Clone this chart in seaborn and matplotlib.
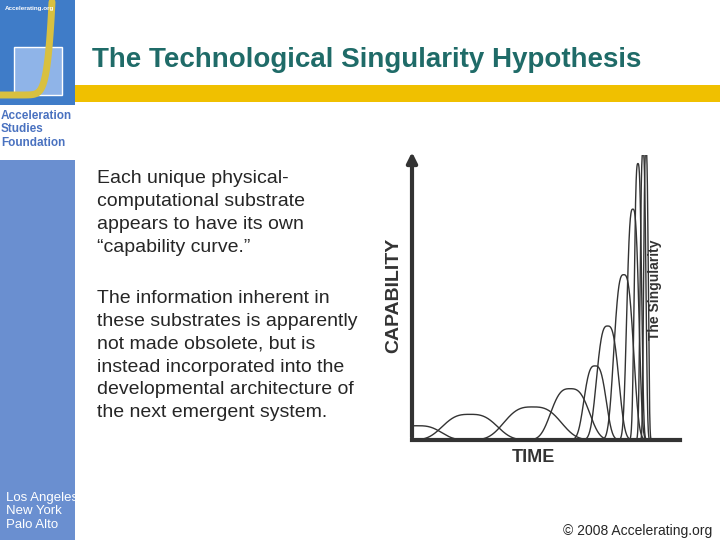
import numpy as np
import pandas as pd
import matplotlib
matplotlib.use("Agg")
import matplotlib.pyplot as plt
import seaborn as sns
from matplotlib.patches import Rectangle, FancyArrowPatch
from matplotlib.lines import Line2D

centers = [2, 21.6, 45, 59, 68.3, 73, 79, 82.4, 84.3, 86.2, 87.3]
half_widths = [12, 13.7, 14.3, 9.7, 5.6, 5.6, 5.0, 3.1, 1.9, 1.5, 1.2]
heights = [5, 9, 11.6, 18, 26, 40, 58, 81, 97, 101, 102]

sns.set_theme(style="white")
plt.rcParams['font.family'] = ['Liberation Sans', 'DejaVu Sans']

rows = []
for i, (c, w, h) in enumerate(zip(centers, half_widths, heights)):
    s = w / 1.15
    t = np.linspace(max(c - 2.2 * w, 0), min(c + 2.2 * w, 100), 300)
    y = h * np.exp(-np.abs((t - c) / s) ** 3)
    for a, b in zip(t, y):
        rows.append({"curve": i, "time": a, "cap": b})
df = pd.DataFrame(rows)

fig = plt.figure(figsize=(7.2, 5.4), dpi=100)
W, H = 720, 540
def R(x, y, w, h, col, z=1, ec="none", lw=0):
    fig.patches.append(Rectangle((x/W, 1-(y+h)/H), w/W, h/H, transform=fig.transFigure,
                                 facecolor=col, edgecolor=ec, lw=lw, zorder=z))
R(0, 0, 75, 540, "#6a8fd0", 0)
R(0, 105, 75, 55, "white")
R(0, 0, 75, 105, "#3f7cc8")
R(14, 47, 48, 48, "#8fb4e8", 2, ec="white", lw=1)
R(75, 85, 645, 17, "#f0c000")
tt = np.linspace(0, 1, 50)
fig.lines.append(Line2D((0 + 52*tt**0.35)/W, 1-(95 - 93*tt**4)/H, transform=fig.transFigure,
                        color="#d8c040", lw=5, zorder=3))
fig.text(5/W, 1-6/H, "Accelerating.org", color="white", fontsize=4.5, fontweight="bold", va="top", zorder=4)
fig.text(1/W, 1-110/H, "Acceleration\nStudies\nFoundation", color="#4a72c0", fontsize=8.5,
         fontweight="bold", va="top", linespacing=1.15)
fig.text(92/W, 1-60/H, "The Technological Singularity Hypothesis", color="#1f6b68",
         fontsize=20, fontweight="bold", va="center")
fig.text(97/W, 1-170/H, "Each unique physical-\ncomputational substrate\nappears to have its own\n\u201ccapability curve.\u201d",
         fontsize=14, va="top", linespacing=1.45)
fig.text(97/W, 1-290/H, "The information inherent in\nthese substrates is apparently\nnot made obsolete, but is\ninstead incorporated into the\ndevelopmental architecture of\nthe next emergent system.",
         fontsize=14, va="top", linespacing=1.45)
fig.text(6/W, 1-492/H, "Los Angeles\nNew York\nPalo Alto", color="white", fontsize=9.5, va="top", linespacing=1.15)
fig.text(712/W, 1-531/H, "\u00a9 2008 Accelerating.org", fontsize=10, ha="right", va="center")

ax = fig.add_axes([412/W, 100/H, 268/W, 285/H])
sns.lineplot(data=df, x="time", y="cap", units="curve", estimator=None, color="#333333",
             lw=1.0, ax=ax, sort=False)
ax.set_xlim(0, 100)
ax.set_ylim(0, 100)
ax.set_xticks([]); ax.set_yticks([])
ax.set_xlabel(""); ax.set_ylabel("")
ax.patch.set_alpha(0)
for s in ["top", "right", "left"]:
    ax.spines[s].set_visible(False)
ax.spines["bottom"].set_linewidth(3); ax.spines["bottom"].set_color("#333333")
ax.add_patch(FancyArrowPatch((0, 0), (0, 102), transform=ax.transData, arrowstyle="-|>,head_width=3,head_length=6",
                             color="#333333", lw=3, clip_on=False, mutation_scale=1))
fig.text(394/W, 1-295/H, "CAPABILITY", rotation=90, fontsize=14, fontweight="bold",
         color="#333333", ha="center", va="center")
fig.text(533/W, 1-457/H, "TIME", fontsize=13, fontweight="bold", color="#333333", ha="center", va="center")
fig.text(655/W, 1-290/H, "The Singularity", rotation=90, fontsize=10, fontweight="bold",
         color="#333333", ha="center", va="center")

fig.savefig("out.png", dpi=100)
